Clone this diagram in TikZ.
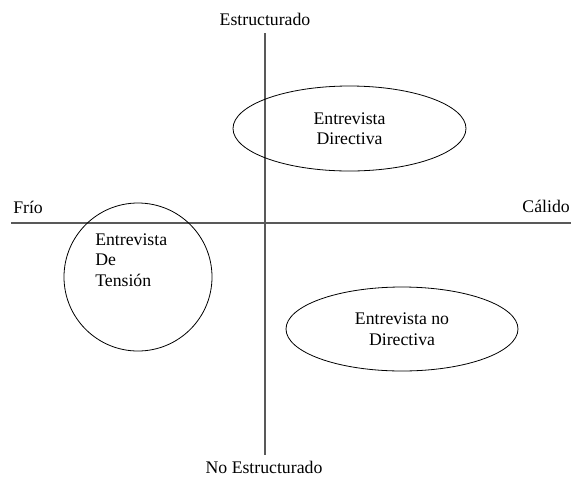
\documentclass[tikz,border=0pt]{standalone}
\usepackage{fontspec}
\setmainfont{Liberation Serif}
\usetikzlibrary{shapes.geometric}

\begin{document}
\begin{tikzpicture}[x=0.75pt, y=-0.75pt,
    font=\rmfamily\fontsize{13.3}{15.4}\selectfont,
    axis/.style={draw=black!65, line width=1.1pt},
    zone/.style={draw, ellipse, line width=0.6pt, inner sep=0pt, align=center},
    lbl/.style={anchor=base, inner sep=0pt}]
    \useasboundingbox (0,0) rectangle (571,476);
    % ejes
    \coordinate (top) at (265,33);
    \coordinate (bottom) at (265,455);
    \coordinate (left) at (11,223);
    \coordinate (right) at (571,223);
    \draw[axis] (top) -- (bottom);
    \draw[axis] (left) -- (right);
    % etiquetas de los ejes
    \node[lbl] (estr) at (265,25) {Estructurado};
    \node[lbl] (noestr) at (264,473) {No Estructurado};
    \node[lbl, anchor=base west] (frio) at (13,213) {Frío};
    \node[lbl, anchor=base east] (calido) at (570,212) {Cálido};
    % tipos de entrevista
    \node[zone, minimum width=174.75pt, minimum height=63.75pt] (dir) at (349.5,128.5) {Entrevista\\Directiva};
    \node[zone, minimum width=174pt, minimum height=63pt] (nodir) at (402,329) {Entrevista no\\Directiva};
    \node[zone, circle, minimum size=111pt] (tension) at (138,277) {};
    \node[inner sep=0pt, anchor=north west, align=left] (tensiontxt) at (95,233) {Entrevista\\De\\Tensión};
\end{tikzpicture}
\end{document}
